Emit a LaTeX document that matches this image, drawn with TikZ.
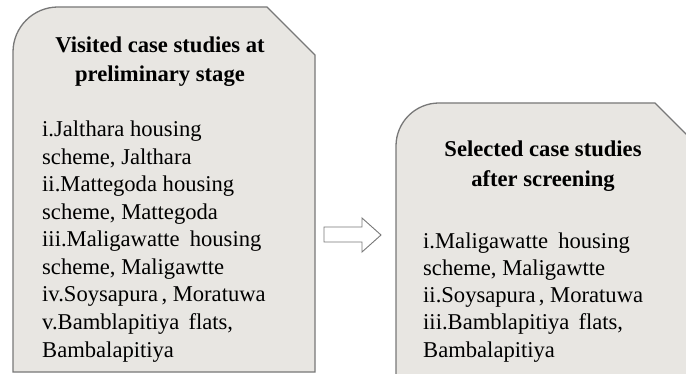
\documentclass[tikz,border=0pt]{standalone}
\usepackage{fontspec}
\setmainfont{Liberation Serif}
\definecolor{boxfill}{RGB}{232,230,226}
\definecolor{boxline}{RGB}{120,120,120}
\tikzset{
  casebox/.style={fill=boxfill, draw=boxline, line width=1.3pt},
  hollowarrow/.style={fill=white, draw=boxline, line width=0.9pt, line join=miter},
  titletxt/.style={anchor=base, inner sep=0pt, font=\fontsize{22.6}{27}\selectfont\bfseries},
  bodytxt/.style={anchor=base west, inner sep=0pt, font=\fontsize{22.6}{27}\selectfont}
}
\begin{document}
\begin{tikzpicture}[x=1pt,y=-1pt]
\useasboundingbox (0,0) rectangle (686,374);
\clip (0,0) rectangle (686,374);
% left box
\path[casebox] (13,372) [rounded corners=45pt] -- (13,7) [sharp corners] -- (267,7) -- (315,55) -- (315,372) -- cycle;
% right box
\path[casebox] (396,380) [rounded corners=43pt] -- (396,103) [sharp corners] -- (655,103) -- (701,149) -- (701,380) -- cycle;
% arrow
\path[hollowarrow] (324,227) -- (362,227) -- (362,218) -- (381,235) -- (362,252) -- (362,242) -- (324,242) -- cycle;
% left texts
\node[titletxt] (lt1) at (160,53) {Visited case studies at};
\node[titletxt] (lt2) at (160,82) {preliminary stage};
\node[bodytxt] (lb1) at (42,137) {i.Jalthara housing};
\node[bodytxt] (lb2) at (42,164.5) {scheme, Jalthara};
\node[bodytxt] (lb3) at (42,192) {ii.Mattegoda housing};
\node[bodytxt] (lb4) at (42,219.5) {scheme, Mattegoda};
\node[bodytxt] (lb5) at (42,247) {iii.Maligawatte\hspace{0.45em}housing};
\node[bodytxt] (lb6) at (42,274.5) {scheme, Maligawtte};
\node[bodytxt] (lb7) at (42,302) {iv.Soysapura\hspace{0.15em}, Moratuwa};
\node[bodytxt] (lb8) at (42,329.5) {v.Bamblapitiya\hspace{0.4em}flats,};
\node[bodytxt] (lb9) at (42,357) {Bambalapitiya};
% right texts
\node[titletxt] (rt1) at (543,157) {Selected case studies};
\node[titletxt] (rt2) at (543,187) {after screening};
\node[bodytxt] (rb1) at (423,249) {i.Maligawatte\hspace{0.45em}housing};
\node[bodytxt] (rb2) at (423,276) {scheme, Maligawtte};
\node[bodytxt] (rb3) at (423,303) {ii.Soysapura\hspace{0.15em}, Moratuwa};
\node[bodytxt] (rb4) at (423,330) {iii.Bamblapitiya\hspace{0.4em}flats,};
\node[bodytxt] (rb5) at (423,357) {Bambalapitiya};
\end{tikzpicture}
\end{document}
